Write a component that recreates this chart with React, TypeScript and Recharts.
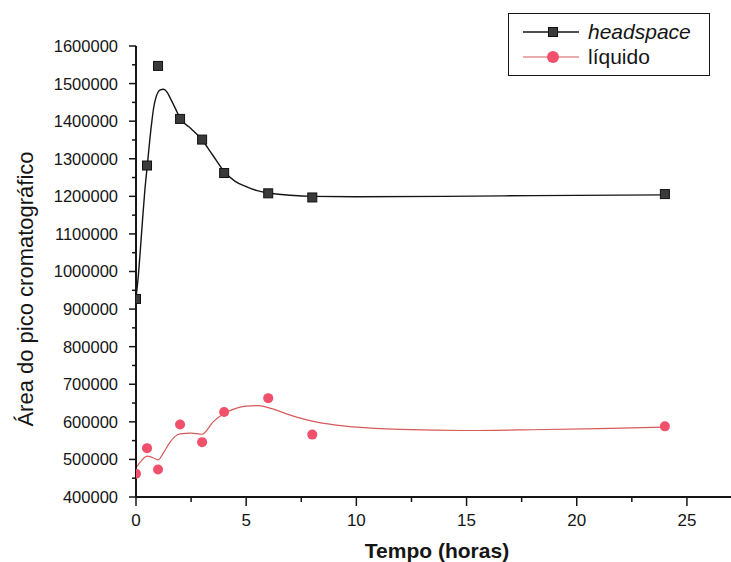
import React from 'react';
import {
  ComposedChart,
  Scatter,
  Line,
  XAxis,
  YAxis,
} from 'recharts';

// measured points (tempo em horas)
const tempo = [0, 0.5, 1, 2, 3, 4, 6, 8, 24];
const headspace = [927000, 1282000, 1547000, 1406000, 1351000, 1262000, 1208000, 1197000, 1206000];
const liquido = [462000, 530000, 473000, 593000, 546000, 626000, 663000, 566000, 588000];

// fitted curves
const hsFitX = [0, 0.1, 0.2, 0.3, 0.4, 0.5, 0.6, 0.7, 0.8, 0.9, 1, 1.1, 1.25, 1.4, 1.6, 1.8, 2, 2.5, 3, 3.5, 4, 4.5, 5, 5.5, 6, 7, 8, 10, 14, 18, 24];
const hsFitY = [930000, 985000, 1060000, 1140000, 1215000, 1275000, 1335000, 1390000, 1435000, 1462000, 1477000, 1483000, 1485000, 1478000, 1456000, 1432000, 1408000, 1380000, 1350000, 1308000, 1266000, 1240000, 1226000, 1215000, 1209000, 1203000, 1200000, 1199000, 1200000, 1202000, 1204000];
const liqFitX = [0, 0.25, 0.5, 0.75, 1, 1.25, 1.5, 1.75, 2, 2.5, 3, 3.5, 4, 4.5, 5, 5.5, 6, 7, 8, 9, 10, 12, 15, 18, 21, 24];
const liqFitY = [478000, 497000, 509000, 505000, 499000, 518000, 542000, 560000, 568000, 570000, 567000, 600000, 622000, 635000, 642000, 643000, 638000, 618000, 602000, 592000, 586000, 580000, 577000, 579000, 582000, 586000];

const xTicks = [0, 2.5, 5, 7.5, 10, 12.5, 15, 17.5, 20, 22.5, 25];
const xLabels = [0, 5, 10, 15, 20, 25];
const yLabels = [400000, 500000, 600000, 700000, 800000, 900000, 1000000, 1100000, 1200000, 1300000, 1400000, 1500000, 1600000];
const yTicks = yLabels.flatMap((v, i) => (i === 0 ? [v] : [v - 50000, v]));

const FONT = '"Liberation Sans", Arial, sans-serif';
const INK = '#151515';
const RED = '#f0506a';
const RED_LINE = '#d65a5a';

const hsPoints = tempo.map((x, i) => ({ x, y: headspace[i] }));
const liqPoints = tempo.map((x, i) => ({ x, y: liquido[i] }));
const hsFit = hsFitX.map((x, i) => ({ x, y: hsFitY[i] }));
const liqFit = liqFitX.map((x, i) => ({ x, y: liqFitY[i] }));

const YTick = (props: any) => {
  const { x, y, payload } = props;
  const major = yLabels.includes(payload.value);
  return (
    <g>
      <line x1={x - (major ? 7 : 4)} x2={x} y1={y} y2={y} stroke={INK} strokeWidth={1.5} />
      {major && (
        <text x={x - 18} y={y} dy="0.36em" textAnchor="end" fontSize={16.5} fill={INK} fontFamily={FONT}>
          {payload.value}
        </text>
      )}
    </g>
  );
};

const XTick = (props: any) => {
  const { x, y, payload } = props;
  const major = xLabels.includes(payload.value);
  return (
    <g>
      <line x1={x} x2={x} y1={y} y2={y + (major ? 9 : 5)} stroke={INK} strokeWidth={1.5} />
      {major && (
        <text x={x} y={y + 29} textAnchor="middle" fontSize={17} fill={INK} fontFamily={FONT}>
          {payload.value}
        </text>
      )}
    </g>
  );
};

const Square = (props: any) => (
  <rect x={props.cx - 4.5} y={props.cy - 4.5} width={9} height={9} fill="#3a3a3a" stroke="#111" strokeWidth={1} />
);

const Dot = (props: any) => <circle cx={props.cx} cy={props.cy} r={5} fill={RED} />;

function ChartLegend() {
  return (
    <div
      style={{
        position: 'absolute',
        left: 508,
        top: 13,
        width: 202,
        height: 63,
        border: `1.5px solid ${INK}`,
        background: '#fff',
        fontFamily: FONT,
        fontSize: 21,
        color: INK,
        boxSizing: 'border-box',
        paddingTop: 5,
      }}
    >
      <div style={{ display: 'flex', alignItems: 'center', height: 25 }}>
        <svg width={70} height={20} style={{ marginLeft: 12 }}>
          <line x1={2} x2={58} y1={10} y2={10} stroke={INK} strokeWidth={1.4} />
          <rect x={27.5} y={5.5} width={9} height={9} fill="#3a3a3a" stroke="#111" />
        </svg>
        <span style={{ fontStyle: 'italic', marginLeft: -3 }}>headspace</span>
      </div>
      <div style={{ display: 'flex', alignItems: 'center', height: 25 }}>
        <svg width={70} height={20} style={{ marginLeft: 12 }}>
          <line x1={2} x2={58} y1={10} y2={10} stroke={RED_LINE} strokeWidth={1.2} />
          <circle cx={32} cy={10} r={6} fill={RED} />
        </svg>
        <span style={{ marginLeft: -3 }}>líquido</span>
      </div>
    </div>
  );
}

export default function App() {
  return (
    <div style={{ position: 'absolute', left: 0, top: 0, width: 731, height: 562, background: '#fff' }}>
      <ComposedChart
        width={731}
        height={562}
        margin={{ top: 46, right: 0, bottom: 0, left: 0 }}
      >
        <XAxis
          type="number"
          dataKey="x"
          domain={[0, 27]}
          ticks={xTicks}
          interval={0}
          tick={<XTick />}
          tickSize={0}
          tickMargin={0}
          height={65}
          axisLine={{ stroke: INK, strokeWidth: 2 }}
          allowDataOverflow
          label={{
            content: () => (
              <text x={437} y={558} textAnchor="middle" fontSize={21} fontWeight="bold" fill={INK} fontFamily={FONT}>
                Tempo (horas)
              </text>
            ),
          }}
        />
        <YAxis
          type="number"
          dataKey="y"
          domain={[400000, 1600000]}
          ticks={yTicks}
          interval={0}
          tick={<YTick />}
          tickSize={0}
          tickMargin={0}
          width={136}
          axisLine={{ stroke: INK, strokeWidth: 2 }}
          allowDataOverflow
          label={{
            content: () => (
              <text x={33} y={289} transform="rotate(-90, 33, 289)" textAnchor="middle" fontSize={22} fill={INK} fontFamily={FONT}>
                Área do pico cromatográfico
              </text>
            ),
          }}
        />
        <Line data={hsFit} dataKey="y" type="monotone" stroke={INK} strokeWidth={1.4} dot={false} isAnimationActive={false} />
        <Line data={liqFit} dataKey="y" type="monotone" stroke={RED_LINE} strokeWidth={1.2} dot={false} isAnimationActive={false} />
        <Scatter data={hsPoints} dataKey="y" shape={<Square />} isAnimationActive={false} />
        <Scatter data={liqPoints} dataKey="y" shape={<Dot />} isAnimationActive={false} />
      </ComposedChart>
      <ChartLegend />
    </div>
  );
}
